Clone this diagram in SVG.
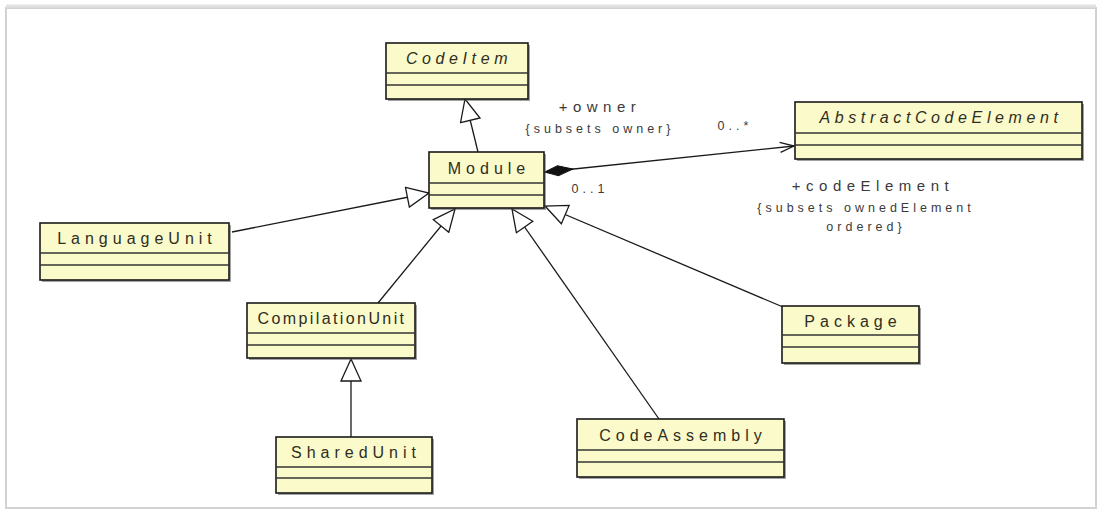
<svg xmlns="http://www.w3.org/2000/svg" width="1105" height="516" viewBox="0 0 1105 516">
<defs>
<style>
.box{fill:#fbfacb;stroke:#1a1a1a;stroke-width:1.6}
.shadow{fill:#555;opacity:0.55}
.sep{stroke:#333;stroke-width:1.3}
.name{font-family:"Liberation Sans",Arial,sans-serif;font-size:16px;letter-spacing:5px;fill:#2e2e22;text-anchor:middle}
.abs{font-style:italic;letter-spacing:4.6px}
.tight{letter-spacing:2.4px}
.lbl{font-family:"Liberation Sans",Arial,sans-serif;font-size:15px;letter-spacing:5.5px;fill:#3a3a3a;text-anchor:middle}
.sm{font-size:12.5px;letter-spacing:4px}
.edge{fill:none;stroke:#1a1a1a;stroke-width:1.3}
</style>
<marker id="gen" viewBox="0 0 24 22" refX="23" refY="11" markerWidth="24" markerHeight="22" markerUnits="userSpaceOnUse" orient="auto">
<path d="M1,1 L23,11 L1,21 Z" fill="#fff" stroke="#1a1a1a" stroke-width="1.3"/>
</marker>
<marker id="open" viewBox="0 0 16 12" refX="15" refY="6" markerWidth="16" markerHeight="12" markerUnits="userSpaceOnUse" orient="auto">
<path d="M1,1 L15,6 L1,11" fill="none" stroke="#1a1a1a" stroke-width="1.3"/>
</marker>
<marker id="dia" viewBox="0 0 30 12" refX="1" refY="6" markerWidth="30" markerHeight="12" markerUnits="userSpaceOnUse" orient="auto">
<path d="M1,6 L14,1 L29,6 L14,11 Z" fill="#111" stroke="#111" stroke-width="1"/>
</marker>
</defs>
<rect x="0" y="0" width="1105" height="516" fill="#fff"/>
<rect x="6" y="8" width="1090" height="500" fill="none" stroke="#d2d2d2" stroke-width="2"/>
<line x1="6" y1="6" x2="1096" y2="6" stroke="#e2e2e2" stroke-width="3"/>

<g id="connectors">
<line class="edge" x1="478" y1="152" x2="465" y2="99" marker-end="url(#gen)"/>
<line class="edge" x1="232" y1="232" x2="429" y2="193" marker-end="url(#gen)"/>
<line class="edge" x1="378" y1="303" x2="455" y2="209" marker-end="url(#gen)"/>
<line class="edge" x1="659" y1="419" x2="512" y2="209" marker-end="url(#gen)"/>
<line class="edge" x1="783" y1="307" x2="545" y2="206" marker-end="url(#gen)"/>
<line class="edge" x1="351" y1="437" x2="351" y2="359" marker-end="url(#gen)"/>
<line class="edge" x1="545" y1="172" x2="794" y2="146" marker-start="url(#dia)" marker-end="url(#open)"/>
<text class="lbl" x="600" y="112">+owner</text>
<text class="lbl sm" x="600" y="133">{subsets owner}</text>
<text class="lbl sm" x="735" y="130">0..*</text>
<text class="lbl sm" x="590" y="193">0..1</text>
<text class="lbl" x="873" y="191">+codeElement</text>
<text class="lbl sm" x="866" y="212">{subsets ownedElement</text>
<text class="lbl sm" x="866" y="231">ordered}</text>
</g>

<g id="CodeItem">
<rect class="shadow" x="388" y="45" width="142" height="56"/>
<rect class="box" x="386" y="43" width="142" height="56"/>
<line class="sep" x1="386" y1="73" x2="528" y2="73"/>
<line class="sep" x1="386" y1="85" x2="528" y2="85"/>
<text class="name abs" x="459" y="64">CodeItem</text>
</g>

<g id="Module">
<rect class="shadow" x="431" y="154" width="115" height="56"/>
<rect class="box" x="429" y="152" width="115" height="56"/>
<line class="sep" x1="429" y1="183" x2="544" y2="183"/>
<line class="sep" x1="429" y1="195" x2="544" y2="195"/>
<text class="name" x="489" y="174">Module</text>
</g>

<g id="AbstractCodeElement">
<rect class="shadow" x="797" y="104" width="287" height="57"/>
<rect class="box" x="795" y="102" width="287" height="57"/>
<line class="sep" x1="795" y1="133" x2="1082" y2="133"/>
<line class="sep" x1="795" y1="145" x2="1082" y2="145"/>
<text class="name abs" x="941" y="123">AbstractCodeElement</text>
</g>

<g id="LanguageUnit">
<rect class="shadow" x="42" y="225" width="189" height="57"/>
<rect class="box" x="40" y="223" width="189" height="57"/>
<line class="sep" x1="40" y1="253" x2="229" y2="253"/>
<line class="sep" x1="40" y1="265" x2="229" y2="265"/>
<text class="name" x="137" y="244">LanguageUnit</text>
</g>

<g id="CompilationUnit">
<rect class="shadow" x="249" y="305" width="168" height="55"/>
<rect class="box" x="247" y="303" width="168" height="55"/>
<line class="sep" x1="247" y1="333" x2="415" y2="333"/>
<line class="sep" x1="247" y1="345" x2="415" y2="345"/>
<text class="name tight" x="332" y="324">CompilationUnit</text>
</g>

<g id="SharedUnit">
<rect class="shadow" x="278" y="439" width="156" height="56"/>
<rect class="box" x="276" y="437" width="156" height="56"/>
<line class="sep" x1="276" y1="467" x2="432" y2="467"/>
<line class="sep" x1="276" y1="478" x2="432" y2="478"/>
<text class="name" x="356" y="458">SharedUnit</text>
</g>

<g id="Package">
<rect class="shadow" x="784" y="308" width="137" height="57"/>
<rect class="box" x="782" y="306" width="137" height="57"/>
<line class="sep" x1="782" y1="335" x2="919" y2="335"/>
<line class="sep" x1="782" y1="347" x2="919" y2="347"/>
<text class="name" x="853" y="327">Package</text>
</g>

<g id="CodeAssembly">
<rect class="shadow" x="579" y="421" width="207" height="58"/>
<rect class="box" x="577" y="419" width="207" height="58"/>
<line class="sep" x1="577" y1="450" x2="784" y2="450"/>
<line class="sep" x1="577" y1="462" x2="784" y2="462"/>
<text class="name" x="683" y="441">CodeAssembly</text>
</g>
</svg>
